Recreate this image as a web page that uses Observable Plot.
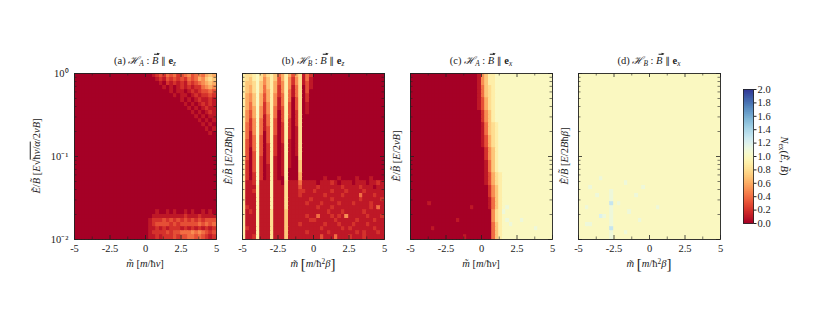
<!DOCTYPE html>
<html><head><meta charset="utf-8">
<script src="https://cdn.jsdelivr.net/npm/d3@7"></script>
<script src="https://cdn.jsdelivr.net/npm/@observablehq/plot@0.6"></script>
<style>
body{margin:0;background:#fff;}
#wrap{position:relative;width:822px;height:309px;overflow:hidden;font-family:"Liberation Serif",serif;color:#222;}
#wrap svg{position:absolute;left:0;top:0;}
.lbl{position:absolute;white-space:nowrap;font-size:10.5px;line-height:1;transform:translate(-50%,-50%);}
.rot{transform:translate(-50%,-50%) rotate(-90deg);}
.rotc{transform:translate(-50%,-50%) rotate(90deg);}
sub{font-size:70%;vertical-align:-0.3em;line-height:0;}
sup{font-size:70%;vertical-align:0.45em;line-height:0;}
.ov{border-top:0.7px solid #222;padding-top:0.5px;}
.big{font-size:15px;vertical-align:-0.08em;}
.vec{position:relative;display:inline-block;line-height:1;}
.arr{position:absolute;left:0.2em;top:-0.2em;width:0.5em;height:0;border-top:0.8px solid #222;}
.arr::after{content:"";position:absolute;right:-1px;top:-2.4px;width:0;height:0;border-left:3px solid #222;border-top:1.8px solid transparent;border-bottom:1.8px solid transparent;}
.par{font-family:"DejaVu Sans",sans-serif;font-size:0.9em;}
</style></head>
<body><div id="wrap"></div>
<script>
// ---- data: value grid, one string per row (top row = largest E/B), one char per column (m from -5 to 5)
// char -> value: parseInt(ch,36)/10  ('0'=0.0 ... '9'=0.9, 'a'=1.0, 'b'=1.1, 'c'=1.2, 'd'=1.3)
const panelA = [
"0000000000 0000000000 0012324342 3453454676",
"0000000000 0000000000 0001213232 3243465787",
"0000000000 0000000000 0000102121 2132345676",
"0000000000 0000000000 0000010101 2121224565",
"0000000000 0000000000 0000000101 1012123343",
"0000000000 0000000000 0000000010 1101212232",
"0000000000 0000000000 0000000000 1010121121",
"0000000000 0000000000 0000000000 0101012121",
"0000000000 0000000000 0000000000 0010101211",
"0000000000 0000000000 0000000000 0001010121",
"0000000000 0000000000 0000000000 0000101011",
"0000000000 0000000000 0000000000 0000010101",
"0000000000 0000000000 0000000000 0000001010",
"0000000000 0000000000 0000000000 0000000101",
"0000000000 0000000000 0000000000 0000000010",
"0000000000 0000000000 0000000000 0000000000",
"0000000000 0000000000 0000000000 0000000000",
"0000000000 0000000000 0000000000 0000000000",
"0000000000 0000000000 0000000000 0000000000",
"0000000000 0000000000 0000000000 0000000000",
"0000000000 0000000000 0000000000 0000000000",
"0000000000 0000000000 0000000000 0000000000",
"0000000000 0000000000 0000000000 0000000000",
"0000000000 0000000000 0000000000 0000000000",
"0000000000 0000000000 0000000000 0000000000",
"0000000000 0000000000 0000000000 0000000000",
"0000000000 0000000000 0000000000 0000000000",
"0000000000 0000000000 0000000000 0000000000",
"0000000000 0000000000 0000000000 0000000000",
"0000000000 0000000000 0000000000 0000000000",
"0000000000 0000000000 0000000000 0000000000",
"0000000000 0000000000 0000000000 0000000000",
"0000000000 0000000000 0000000000 0000000000",
"0000000000 0000000000 0001001010 0101001010",
"0000000000 0000000000 0011111111 1211121111",
"0000000000 0000000000 0122232323 2323232333",
"0000000000 0000000000 0123333232 3333343434",
"0000000000 0000000000 0112121222 1212121212",
"0000000000 0000000000 0122223233 4445454323",
"0000000000 0000000000 0112122232 3344343212"];
const panelB = [
"9889a86897 4696368142 0000000000 0000000000",
"9879a85797 3695258141 0000000000 0000000000",
"9778a75796 3595258131 0000000000 0000000000",
"9768a74796 2595148031 0000000000 0000000000",
"9768a74696 2594148030 0000000000 0000000000",
"9657a63695 2494148020 0000000000 0000000000",
"9657a63695 1494038020 0000000000 0000000000",
"9647a62595 1493038010 0000000000 0000000000",
"9646a52594 1393038010 0000000000 0000000000",
"9536a52594 0393028010 0000000000 0000000000",
"9536a51494 0393028000 0000000000 0000000000",
"9525a41493 0392028000 0000000000 0000000000",
"9425a41493 0292028000 0000000000 0000000000",
"9425a41393 0292018000 0000000000 0000000000",
"9415a40393 0292018000 0000000000 0000000000",
"9414a30392 0292018000 0000000000 0000000000",
"9314a30392 0291018000 0000000000 0000000000",
"9314a30292 0191018000 0000000000 0000000000",
"9304a30292 0191018000 0000000000 0000000000",
"9303a30292 0191018000 0000000000 0000000000",
"9303a20291 0191008000 0000000000 0000000000",
"9203a20291 0191007000 0000000000 0000000000",
"9203a20191 0191007000 0000000000 0000000000",
"9203a20191 0190007000 0000000000 0000000000",
"9202a20191 0190006000 0000000000 0000000000",
"9202a20191 0090006000 0001000100 0010001000",
"9112a11191 1081114111 1011121011 1011101121",
"9111911191 1181113111 1211111121 1112111011",
"9112911191 1181112211 2111121112 1111211111",
"9111911191 1181112111 1112111121 1114111211",
"9111911191 1181111112 1111121111 1112111112",
"9111911191 1181111121 1121111211 1211112111",
"9211911191 1181111111 1211121111 1111112141",
"9121911181 1171111111 1111211121 1111211111",
"9111911181 1171111121 1411121215 1111121112",
"9111911181 1171111112 2111112111 1121111211",
"9111911181 1171112111 1112111211 1211121111",
"9211911181 1171111111 1121111121 2111111211",
"9111911181 1171111121 1111211111 1121211121",
"9112911181 1171111111 1131114111 2111211111"];
const panelC = [
"0000000000 0000000001 5799aaaaaa aaaaaaaaaa",
"0000000000 0000000001 5799aaaaaa aaaaaaaaaa",
"0000000000 0000000001 5799aaaaaa aaaaaaaaaa",
"0000000000 0000000001 4789aaaaaa aaaaaaaaaa",
"0000000000 0000000001 4789aaaaaa aaaaaaaaaa",
"0000000000 0000000001 4789aaaaaa aaaaaaaaaa",
"0000000000 0000000001 3689aaaaaa aaaaaaaaaa",
"0000000000 0000000001 3689aaaaaa aaaaaaaaaa",
"0000000000 0000000001 3689aaaaaa aaaaaaaaaa",
"0000000000 0000000000 2579aaaaaa aaaaaaaaaa",
"0000000000 0000000000 2579aaaaaa aaaaaaaaaa",
"0000000000 0000000000 2579aaaaaa aaaaaaaaaa",
"0000000000 0000000000 14789aaaaa aaaaaaaaaa",
"0000000000 0000000000 14789aaaaa aaaaaaaaaa",
"0000000000 0000000000 14789aaaaa aaaaaaaaaa",
"0000000000 0000000000 13689aaaaa aaaaaaaaaa",
"0000000000 0000000000 13689aaaaa aaaaaaaaaa",
"0000000000 0000000000 13689aaaaa aaaaaaaaaa",
"0000000000 0000000000 02579aaaaa aaaaaaaaaa",
"0000000000 0000000000 02579aaaaa aaaaaaaaaa",
"0000000000 0000000000 02579aaaaa aaaaaaaaaa",
"0000000000 0000000000 01479aaaaa aaaaaaaaaa",
"0000000000 0000000000 01479aaaaa aaaaaaaaaa",
"0000000000 0000000000 01479aaaaa aaaaaaaaaa",
"0000000000 0000000000 013689aaaa aaaaaaaaaa",
"0000000000 0000000000 013689aaaa aaaaaaaaaa",
"0000000000 0000000000 013689aaaa aaaaaaaaaa",
"0000000000 0000000000 002579aaaa aaaaaaaaaa",
"0000000000 0000000000 002579aaaa aaaaaaaaaa",
"0000000000 0000000000 002579aaaa aaaaaaaaaa",
"0000000000 0000000000 001479aaaa aaaaaaaaaa",
"0000010000 0000000000 001479aaaa aaaaaaaaaa",
"0000000000 0000000100 001479abaa aaaaaaaaaa",
"0000000000 0000000000 000589baaa aaaaaaaaaa",
"0000000000 0000000000 000589aaaa aaaaaaaaaa",
"0000000000 0001000000 000589abaa abaaaaaaaa",
"0000000000 0000000000 000479aaba aaaaaaaaaa",
"0000001000 0000000000 000479aaaa aaaaabaaaa",
"0000000000 0000000000 000479aaaa aaaaaaaaaa",
"0000000000 0000010000 000479aaaa aaaaaaaaaa"];
const panelD = [
"aaaaaaaaaa aaaaaaaaaa aaaaaaaaaa aaaaaaaaaa",
"aaaaaaaaaa aaaaaaaaaa aaaaaaaaaa aaaaaaaaaa",
"aaaaaaaaaa aaaaaaaaaa aaaaaaaaaa aaaaaaaaaa",
"aaaaaaaaaa aaaaaaaaaa aaaaaaaaaa aaaaaaaaaa",
"aaaaaaaaaa aaaaaaaaaa aaaaaaaaaa aaaaaaaaaa",
"aaaaaaaaaa aaaaaaaaaa aaaaaaaaaa aaaaaaaaaa",
"aaaaaaaaaa aaaaaaaaaa aaaaaaaaaa aaaaaaaaaa",
"aaaaaaaaaa aaaaaaaaaa aaaaaaaaaa aaaaaaaaaa",
"aaaaaaaaaa aaaaaaaaaa aaaaaaaaaa aaaaaaaaaa",
"aaaaaaaaaa aaaaaaaaaa aaaaaaaaaa aaaaaaaaaa",
"aaaaaaaaaa aaaaaaaaaa aaaaaaaaaa aaaaaaaaaa",
"aaaaaaaaaa aaaaaaaaaa aaaaaaaaaa aaaaaaaaaa",
"aaaaaaaaaa aaaaaaaaaa aaaaaaaaaa aaaaaaaaaa",
"aaaaaaaaaa aaaaaaaaaa aaaaaaaaaa aaaaaaaaaa",
"aaaaaaaaaa aaaaaaaaaa aaaaaaaaaa aaaaaaaaaa",
"aaaaaaaaaa aaaaaaaaaa aaaaaaaaaa aaaaaaaaaa",
"aaaaaaaaaa aaaaaaaaaa aaaaaaaaaa aaaaaaaaaa",
"aaaaaaaaaa aaaaaaaaaa aaaaaaaaaa aaaaaaaaaa",
"aaaaaaaaaa aaaaaaaaaa aaaaaaaaaa aaaaaaaaaa",
"aaaaaaaaaa aaaaaaaaaa aaaaaaaaaa aaaaaaaaaa",
"aaaaaaaaaa aaaaaaaaaa aaaaaaaaaa aaaaaaaaaa",
"aaaaaaaaaa aaaaaaaaaa aaaaaaaaaa aaaaaaaaaa",
"aaaaaaaaaa aaaaaaaaaa aaaaaaaaaa aaaaaaaaaa",
"aaaaaaaaaa aaaaaaaaaa aaaaaaaaaa aaaaaaaaaa",
"aaaaaaaaaa aaaaaaaaaa aaaaaaaaaa aaaaaaaaaa",
"aaaaaabaaa aaaaaaaaaa aaaaaaaaaa aaaaaaaaaa",
"aaaaaaaaaa aaabaaaaaa aaaaaaaaaa aaaaaaaaaa",
"aaabaaaaaa aaaaaaaaba aaaaaaaaaa aaaaaaaaaa",
"aaaaaaaaab aaaaaaaaaa aaaaaaaaaa aaaaaaaaaa",
"aaaaabaaab aaaaaabaaa aaaaaaaaaa aaaaaaaaaa",
"aaaaaaaaab aaaaaaaaaa aaaaaaaaaa aaaaaaaaaa",
"aaaaaaaaad abaaaaaaaa aaaaaaaaaa aaaaaaaaaa",
"aabaaaaaab aaaaaaaaaa aabaaaaaaa aaaaaaaaaa",
"aaaaaaaaab aaaabaaaaa aaaaaaaaaa aaaaaaaaaa",
"aaaaaacbab aaaaaaaaaa aaaaaaaaaa aaaaaaaaaa",
"aaaaaaaaab aaaaaaabaa aaaaaaaaaa aaaaaaaaaa",
"aabbaaaaab aaaaaaaaaa aaaaaaaaaa aaaaaaaaaa",
"aaaaaaaaad aaaaaaaaaa aaaaaaaaaa aaaaaaaaaa",
"aaaaaaaaab aaabaaaaaa aaaaaaaaaa aaaaaaaaaa",
"aaaaaaaaab aaaaaaaaaa aaaaaaaaaa aaaaaaaaaa"];

const xTickValues = [-5, -2.5, 0, 2.5, 5];
const xMinorTicks = [-3.75, -1.25, 1.25, 3.75];
const yTickValues = [0.01, 0.1, 1];
const yTickLabels = ["10⁻²", "10⁻¹", "10⁰"];
const yMinorTicks = [0.02,0.03,0.04,0.05,0.06,0.07,0.08,0.09,0.2,0.3,0.4,0.5,0.6,0.7,0.8,0.9];
const cbTicks = [0,0.2,0.4,0.6,0.8,1.0,1.2,1.4,1.6,1.8,2.0];
const colorDomain = [0, 2];

const vecB = '<span class="vec"><i>B</i><span class="arr"></span></span>';
const par = '<span class="par">∥</span>';
const titles = [
 '(a) <i>ℋ</i><sub><i>A</i></sub> : ' + vecB + ' ' + par + ' <b>e</b><sub><i>z</i></sub>',
 '(b) <i>ℋ</i><sub><i>B</i></sub> : ' + vecB + ' ' + par + ' <b>e</b><sub><i>z</i></sub>',
 '(c) <i>ℋ</i><sub><i>A</i></sub> : ' + vecB + ' ' + par + ' <b>e</b><sub><i>x</i></sub>',
 '(d) <i>ℋ</i><sub><i>B</i></sub> : ' + vecB + ' ' + par + ' <b>e</b><sub><i>x</i></sub>'];
const yLabels = [
 '<i>Ẽ</i>/<i>B̃</i> [<i>E</i>√<span class="ov">ħ<i>v</i>/<i>α</i></span>/2<i>vB</i>]',
 '<i>Ẽ</i>/<i>B̃</i> [<i>E</i>/2<i>B</i>ħ<i>β</i>]',
 '<i>Ẽ</i>/<i>B̃</i> [<i>E</i>/2<i>vB</i>]',
 '<i>Ẽ</i>/<i>B̃</i> [<i>E</i>/2<i>B</i>ħ<i>β</i>]'];
const xLabels = [
 '<i>m̃</i> [<i>m</i>/ħ<i>v</i>]',
 '<i>m̃</i> <span class="big">[</span><i>m</i>/ħ<sup>2</sup><i>β</i><span class="big">]</span>',
 '<i>m̃</i> [<i>m</i>/ħ<i>v</i>]',
 '<i>m̃</i> <span class="big">[</span><i>m</i>/ħ<sup>2</sup><i>β</i><span class="big">]</span>'];
const cbLabel = '<i>N</i><sub>ex</sub>(<i>Ẽ</i>, <i>B̃</i>)';

// ---- layout
const W = 822, H = 309;
const panelLefts = [74, 242, 410, 578], PW = 142, PT = 73, PB = 239;
const FH = PB - PT;
const nCols = 40, nRows = 40;
const xEdges = d3.range(nCols + 1).map(i => -5 + i * 10 / nCols);
const yEdges = d3.range(nRows + 1).map(r => Math.pow(10, -2 * r / nRows));
const val = ch => parseInt(ch, 36) / 10;

function cells(rows) {
  const out = [];
  rows.forEach((row, r) => {
    const s = row.replace(/ /g, "");
    if (s.length !== nCols) console.warn("row length", r, s.length);
    [...s].forEach((ch, i) => out.push({x1: xEdges[i], x2: xEdges[i + 1], y1: yEdges[r + 1], y2: yEdges[r], v: val(ch)}));
  });
  return out;
}

const wrap = document.getElementById("wrap");
const baseStyle = {background: "transparent", fontFamily: "'Liberation Serif', serif", fontSize: "10.5px", color: "#222", overflow: "visible"};
const ink = "#222";
[panelA, panelB, panelC, panelD].forEach((rows, k) => {
  const L = panelLefts[k];
  const fmt = new Map(yTickValues.map((v, i) => [v, yTickLabels[i]]));
  const svg = Plot.plot({
    width: W, height: H,
    marginLeft: L, marginRight: W - L - PW, marginTop: PT, marginBottom: H - PB,
    style: baseStyle,
    x: {domain: [-5, 5], ticks: xTickValues, tickFormat: d => String(d), tickSize: 0, tickPadding: 5, label: null},
    y: {type: "log", domain: [0.01, 1], axis: k === 0 ? "left" : null, ticks: yTickValues, tickFormat: d => fmt.get(d), tickSize: 0, tickPadding: 6, label: null},
    color: {type: "linear", scheme: "rdylbu", domain: colorDomain},
    marks: [
      Plot.rect(cells(rows), {x1: "x1", x2: "x2", y1: "y1", y2: "y2", fill: "v", stroke: "v", strokeWidth: 0.8, shapeRendering: "crispEdges"}),
      Plot.tickX(xTickValues, {x: d => d, insetTop: FH - 4, stroke: ink, strokeWidth: 0.8}),
      Plot.tickX(xTickValues, {x: d => d, insetBottom: FH - 4, stroke: ink, strokeWidth: 0.8}),
      Plot.tickX(xMinorTicks, {x: d => d, insetTop: FH - 2.5, stroke: ink, strokeWidth: 0.6}),
      Plot.tickX(xMinorTicks, {x: d => d, insetBottom: FH - 2.5, stroke: ink, strokeWidth: 0.6}),
      Plot.tickY(yTickValues, {y: d => d, insetRight: PW - 4, stroke: ink, strokeWidth: 0.8}),
      Plot.tickY(yTickValues, {y: d => d, insetLeft: PW - 4, stroke: ink, strokeWidth: 0.8}),
      Plot.tickY(yMinorTicks, {y: d => d, insetRight: PW - 2.5, stroke: ink, strokeWidth: 0.6}),
      Plot.tickY(yMinorTicks, {y: d => d, insetLeft: PW - 2.5, stroke: ink, strokeWidth: 0.6}),
      Plot.frame({stroke: ink, strokeWidth: 0.9})
    ]
  });
  wrap.appendChild(svg);
});

// colorbar
const cbSteps = d3.range(0, 200).map(i => i / 100);
wrap.appendChild(Plot.plot({
  width: W, height: H,
  marginLeft: 743, marginRight: W - 753, marginTop: 89, marginBottom: H - 223,
  style: baseStyle,
  x: {domain: [0, 1], axis: null},
  y: {domain: colorDomain, axis: "right", ticks: cbTicks, tickFormat: d => d.toFixed(1), tickSize: 2.5, tickPadding: 1.5, label: null},
  color: {type: "linear", scheme: "rdylbu", domain: colorDomain},
  marks: [
    Plot.rect(cbSteps, {x1: () => 0, x2: () => 1, y1: d => d, y2: d => d + 0.01, fill: d => d + 0.005, stroke: d => d + 0.005, strokeWidth: 0.8, shapeRendering: "crispEdges"}),
    Plot.frame({stroke: ink, strokeWidth: 0.8})
  ]
}));

function addLabel(html, x, y, cls) {
  const d = document.createElement("div");
  d.className = "lbl" + (cls ? " " + cls : "");
  d.style.left = x + "px"; d.style.top = y + "px";
  d.innerHTML = html;
  wrap.appendChild(d);
}
const yLabelOffsets = [37, 13, 13, 13];
panelLefts.forEach((L, k) => {
  const cx = L + PW / 2;
  addLabel(titles[k], cx, 61);
  addLabel(xLabels[k], cx, 264);
  addLabel(yLabels[k], L - yLabelOffsets[k], (PT + PB) / 2, "rot");
});
addLabel(cbLabel, 784, 156, "rotc");
</script></body></html>
